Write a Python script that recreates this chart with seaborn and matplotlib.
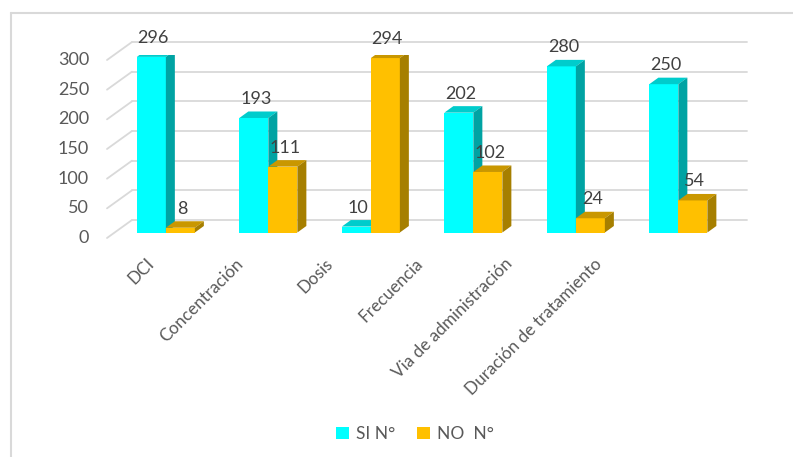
import matplotlib
matplotlib.use("Agg")
import matplotlib.pyplot as plt
import matplotlib.transforms as mtransforms
from matplotlib.patches import Polygon, Patch
import seaborn as sns
import pandas as pd

categories = ["DCI", "Concentración", "Dosis", "Frecuencia",
              "Via de administración", "Duración de tratamiento"]
si_values = [296, 193, 10, 202, 280, 250]
no_values = [8, 111, 294, 102, 24, 54]
series_names = ["SI N°", "NO  N°"]
y_ticks = [0, 50, 100, 150, 200, 250, 300]

front_colors = ["#00FFFF", "#FFC000"]
top_colors = ["#00CCCC", "#C99700"]
side_colors = ["#00A3A3", "#A67F00"]

df = pd.DataFrame({
    "cat": categories * 2,
    "val": si_values + no_values,
    "serie": [series_names[0]] * len(categories) + [series_names[1]] * len(categories),
})

sns.set_theme(style="white")
plt.rcParams["font.family"] = ["Lato", "DejaVu Sans"]

DPI = 100
fig = plt.figure(figsize=(7.93, 4.57), dpi=DPI)
ax = fig.add_axes([114.6 / 793, (457 - 232.5) / 457, 615 / 793, 178 / 457])

sns.barplot(data=df, x="cat", y="val", hue="serie", palette=front_colors,
            width=0.566, ax=ax, legend=False, saturation=1, linewidth=0)
ax.set_xlim(-0.5, 5.5)
ax.set_ylim(0, 300)
ax.set_xticks([])
ax.set_yticks([])
ax.set_xlabel("")
ax.set_ylabel("")
for s in ax.spines.values():
    s.set_visible(False)
ax.patch.set_alpha(0)


def off(dx, dy):
    return mtransforms.ScaledTranslation(dx / DPI, dy / DPI, fig.dpi_scale_trans)


# back wall gridlines + floor diagonals
GX, GY = 17.4, 12.5
FX, FY = -7.6, -5.5
grid_c = "#D9D9D9"
for v in y_ticks:
    ax.plot([-0.5, 5.5], [v, v], color=grid_c, lw=1.3,
            transform=ax.transData + off(GX, GY), zorder=0.5, clip_on=False)
    p0 = ax.transData.transform((-0.5, v))
    ax.plot([p0[0] + FX, p0[0] + GX], [p0[1] + FY, p0[1] + GY], color=grid_c,
            lw=1.3, transform=mtransforms.IdentityTransform(), zorder=0.5, clip_on=False)
    ax.text(-0.5, v, str(v), transform=ax.transData + off(-25.6, FY),
            ha="right", va="center", fontsize=13, color="#595959")

# 3D faces on bars
DX, DY = 9, 6.5
n = len(categories)
for k, patch in enumerate(ax.patches[:2 * n]):
    s = k // n
    patch.set_zorder(2 + s)
    x0 = patch.get_x()
    w = patch.get_width()
    h = patch.get_height()
    (ax0, ay0) = ax.transData.transform((x0, 0))
    (ax1, ay1) = ax.transData.transform((x0 + w, h))
    top = Polygon([(ax0, ay1), (ax1, ay1), (ax1 + DX, ay1 + DY), (ax0 + DX, ay1 + DY)],
                  closed=True, facecolor=top_colors[s], edgecolor="none",
                  transform=mtransforms.IdentityTransform(), zorder=2.1 + s)
    side = Polygon([(ax1, ay0), (ax1, ay1), (ax1 + DX, ay1 + DY), (ax1 + DX, ay0 + DY)],
                   closed=True, facecolor=side_colors[s], edgecolor="none",
                   transform=mtransforms.IdentityTransform(), zorder=2.1 + s)
    ax.add_patch(top)
    ax.add_patch(side)
    ax.text(x0 + w / 2, h, f"{int(h)}", transform=ax.transData + off(2, 19),
            ha="center", va="center", fontsize=13, color="#404040", zorder=5)

# category labels
for i, c in enumerate(categories):
    ax.text(i, 0, c, transform=ax.transData + off(-(20 + 13 * i), -23),
            rotation=45, rotation_mode="anchor", ha="right", va="top",
            fontsize=12.3, color="#595959")

# legend
handles = [Patch(facecolor=front_colors[0], edgecolor="none", label=series_names[0]),
           Patch(facecolor=front_colors[1], edgecolor="none", label=series_names[1])]
fig.legend(handles=handles, loc="center", bbox_to_anchor=(415 / 793, 1 - 434 / 457),
           ncol=2, frameon=False, fontsize=12.5, handlelength=0.75, handleheight=0.75,
           handletextpad=0.4, columnspacing=1.3, labelcolor="#595959")

# chart border (top and left visible)
fig.add_artist(plt.Line2D([11 / 793, 1], [1 - 13 / 457, 1 - 13 / 457],
                          color="#D9D9D9", lw=1.5, transform=fig.transFigure))
fig.add_artist(plt.Line2D([11 / 793, 11 / 793], [0, 1 - 13 / 457],
                          color="#D9D9D9", lw=1.5, transform=fig.transFigure))

fig.savefig("out.png", dpi=DPI, facecolor="white")
